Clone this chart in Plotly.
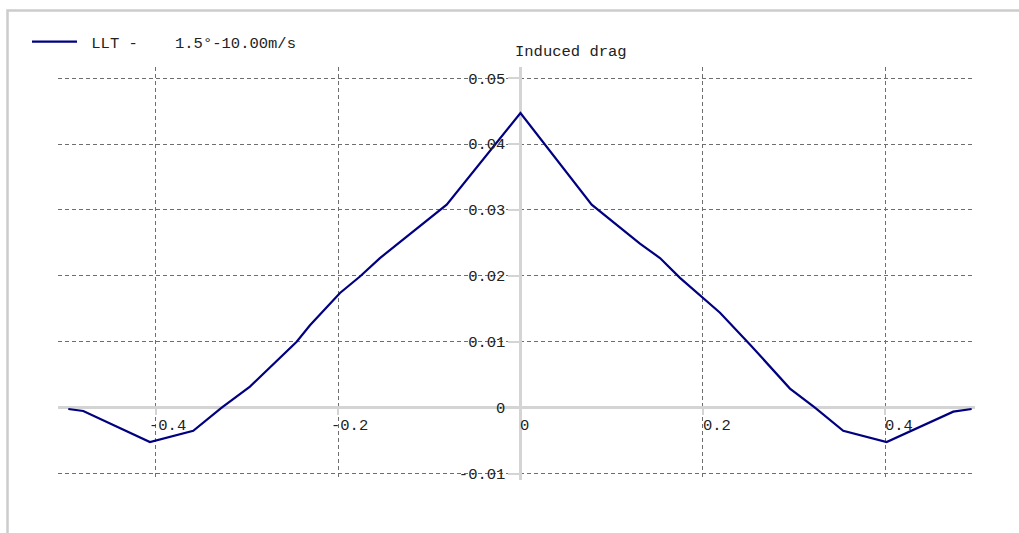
import plotly.graph_objects as go

# Spanwise induced drag distribution (LLT, 1.5 deg, 10 m/s)
span_pos = [
    -0.4958, -0.4794, -0.4063, -0.3588, -0.3276, -0.2966, -0.2454,
    -0.2308, -0.1979, -0.1760, -0.1541, -0.1340, -0.0809, 0.0,
    0.0781, 0.1310, 0.1530, 0.1749, 0.2188, 0.2516, 0.2955, 0.3229,
    0.3539, 0.4015, 0.4746, 0.4947,
]
induced_drag = [
    -0.0002, -0.0005, -0.0052, -0.0035, 0.0000, 0.0032, 0.0100,
    0.0125, 0.0174, 0.0199, 0.0227, 0.0249, 0.0308, 0.0447,
    0.0308, 0.0249, 0.0227, 0.0197, 0.0144, 0.0096, 0.0029, 0.0000,
    -0.0035, -0.0052, -0.0006, -0.0002,
]
series_name = "\u00a0LLT -\u00a0\u00a0\u00a0\u00a01.5°-10.00m/s"
y_title = "Induced drag"

x_ticks = [-0.4, -0.2, 0.0, 0.2, 0.4]
x_tick_labels = ["-0.4", "-0.2", "0", "0.2", "0.4"]
y_ticks = [-0.01, 0.0, 0.01, 0.02, 0.03, 0.04, 0.05]
y_tick_labels = ["-0.01", "0", "0.01", "0.02", "0.03", "0.04", "0.05"]

x_range = [-0.5071, 0.4984]
y_range = [-0.01097, 0.05169]

FONT = "Liberation Mono, Courier New, monospace"
FSIZE = 15.5
TEXT_COLOR = "#222222"
GRID = "#6e6e6e"
AXIS = "#d4d4d4"
NAVY = "#000080"

# paper fractions where the zero axes cross
x0_paper = (0 - x_range[0]) / (x_range[1] - x_range[0])
y0_paper = (0 - y_range[0]) / (y_range[1] - y_range[0])

fig = go.Figure()
fig.add_trace(go.Scatter(
    x=span_pos, y=induced_drag, mode="lines", name=series_name,
    line=dict(color=NAVY, width=2.2),
))

# x tick labels sit just under the horizontal zero axis, digits starting at the tick
annotations = []
for v, t in zip(x_ticks, x_tick_labels):
    shift = -2 - (7 if t.startswith("-") else 0)
    annotations.append(dict(
        x=v, y=0, xref="x", yref="y", text=t, showarrow=False,
        xanchor="left", yanchor="middle", xshift=shift, yshift=-18,
        font=dict(family=FONT, size=FSIZE, color=TEXT_COLOR),
    ))
annotations.append(dict(
    x=0, y=1.0363, xref="x", yref="paper", text=y_title, showarrow=False,
    xanchor="left", yanchor="middle", xshift=-7,
    font=dict(family=FONT, size=FSIZE, color=TEXT_COLOR),
))

fig.update_layout(
    width=1019, height=533,
    margin=dict(l=58, r=44, t=67, b=53),
    paper_bgcolor="white", plot_bgcolor="white",
    font=dict(family=FONT, size=FSIZE, color=TEXT_COLOR),
    showlegend=True,
    legend=dict(
        x=(27 - 58) / 917, y=(480 - 42) / 413, xanchor="left", yanchor="middle",
        bgcolor="rgba(0,0,0,0)", borderwidth=0, itemwidth=45,
        font=dict(family=FONT, size=FSIZE, color=TEXT_COLOR),
    ),
    annotations=annotations,
    shapes=[dict(
        type="rect", xref="paper", yref="paper",
        x0=(7.5 - 58) / 917, x1=1.2, y0=-0.3, y1=(480 - 10.5) / 413,
        line=dict(color="#cccccc", width=2.5), fillcolor="rgba(0,0,0,0)",
        layer="below",
    )],
    xaxis=dict(
        range=x_range, tickvals=x_ticks, showticklabels=False,
        anchor="free", position=y0_paper,
        showgrid=True, gridcolor=GRID, gridwidth=1, griddash="4px,3px",
        zeroline=True, zerolinecolor=AXIS, zerolinewidth=2.5,
        ticks="outside", ticklen=6, tickcolor=AXIS, tickwidth=2,
        showline=False,
    ),
    yaxis=dict(
        range=y_range, tickvals=y_ticks, ticktext=y_tick_labels,
        anchor="free", position=x0_paper,
        showgrid=True, gridcolor=GRID, gridwidth=1, griddash="4px,3px",
        zeroline=True, zerolinecolor=AXIS, zerolinewidth=2.5,
        ticks="outside", ticklen=12, tickcolor=AXIS, tickwidth=2,
        showline=False,
        tickfont=dict(family=FONT, size=FSIZE, color=TEXT_COLOR),
    ),
)

fig.write_html("out.html")
